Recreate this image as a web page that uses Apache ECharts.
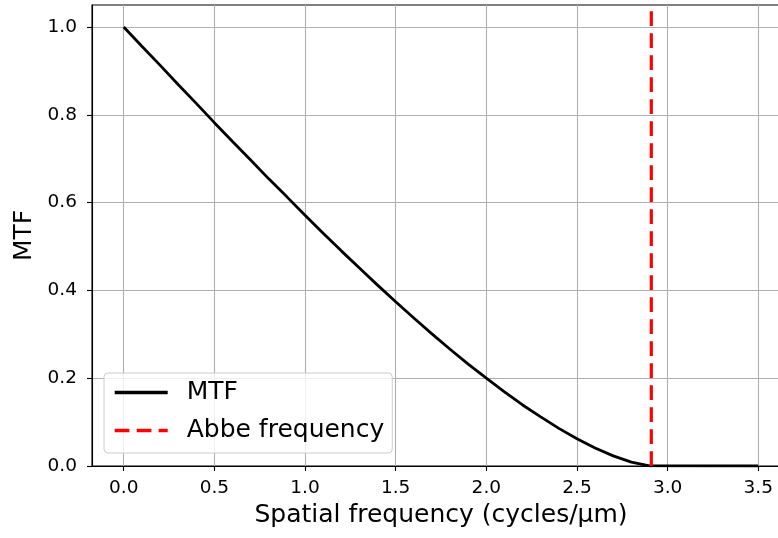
<!DOCTYPE html>
<html>
<head>
<meta charset="utf-8">
<script src="https://cdn.jsdelivr.net/npm/echarts@6/dist/echarts.min.js"></script>
<style>
  html, body { margin: 0; padding: 0; background: #fff; }
  #chart { width: 778px; height: 538px; }
</style>
</head>
<body>
<div id="chart"></div>
<script>
  // 读图得到的数据
  const freq = [0, 0.1, 0.2, 0.3, 0.4, 0.5, 0.6, 0.7, 0.8, 0.9, 1.0, 1.1, 1.2, 1.3, 1.4, 1.5,
    1.6, 1.7, 1.8, 1.9, 2.0, 2.1, 2.2, 2.3, 2.4, 2.5, 2.6, 2.7, 2.8, 2.9, 2.91, 3.5]
  const mtf = [1.0, 0.956, 0.913, 0.869, 0.826, 0.782, 0.739, 0.697, 0.654, 0.613, 0.571,
    0.530, 0.490, 0.451, 0.412, 0.374, 0.337, 0.301, 0.266, 0.232, 0.200, 0.169, 0.139,
    0.112, 0.0857, 0.0621, 0.0411, 0.0230, 0.0088, 0.0002, 0, 0]
  const abbeFreq = 2.91
  const xTicks = [0, 0.5, 1.0, 1.5, 2.0, 2.5, 3.0, 3.5]
  const yTicks = [0, 0.2, 0.4, 0.6, 0.8, 1.0]

  const font = 'DejaVu Sans'
  const myChart = echarts.init(document.getElementById('chart'))

  let option = {
    animation: false,
    grid: {
      left: 92,
      right: -12,
      top: 5,
      bottom: 72,
      outerBoundsMode: 'none',
      show: true,
      borderColor: '#000',
      borderWidth: 1.1,
      backgroundColor: 'transparent'
    },
    legend: {
      orient: 'vertical',
      left: 104,
      top: 373,
      data: ['MTF', 'Abbe frequency'],
      itemWidth: 53,
      itemHeight: 14,
      itemGap: 13,
      padding: [7, 8, 10, 9],
      backgroundColor: 'rgba(255,255,255,0.8)',
      borderColor: '#cccccc',
      borderWidth: 1,
      borderRadius: 4,
      itemStyle: { opacity: 0 },
      lineStyle: { width: 3.4 },
      textStyle: {
        fontFamily: font,
        fontSize: 25,
        color: '#000',
        padding: [0, 0, 0, 14]
      }
    },
    xAxis: {
      type: 'value',
      min: -0.175,
      max: 3.675,
      splitNumber: 8,
      name: 'Spatial frequency (cycles/μm)',
      nameLocation: 'middle',
      nameGap: 33,
      nameTextStyle: { fontFamily: font, fontSize: 25, color: '#000' },
      axisLine: { onZero: false, lineStyle: { color: '#000', width: 1.1 } },
      axisTick: { customValues: xTicks, length: 5, lineStyle: { color: '#000', width: 1.1 } },
      axisLabel: {
        customValues: xTicks,
        margin: 13,
        fontFamily: font,
        fontSize: 18.5,
        color: '#000',
        formatter: (v) => v.toFixed(1)
      },
      splitLine: { show: true, lineStyle: { color: '#b0b0b0', width: 1.1 } }
    },
    yAxis: {
      type: 'value',
      min: 0,
      max: 1.05,
      interval: 0.2,
      name: 'MTF',
      nameLocation: 'middle',
      nameGap: 52,
      nameTextStyle: { fontFamily: font, fontSize: 25, color: '#000' },
      axisLine: { show: true, onZero: false, lineStyle: { color: '#000', width: 1.1 } },
      axisTick: { show: true, customValues: yTicks, length: 5, lineStyle: { color: '#000', width: 1.1 } },
      axisLabel: {
        customValues: yTicks,
        margin: 15,
        fontFamily: font,
        fontSize: 18.5,
        color: '#000',
        formatter: (v) => v.toFixed(1)
      },
      splitLine: { show: true, lineStyle: { color: '#b0b0b0', width: 1.1 } }
    },
    series: [
      {
        name: 'MTF',
        type: 'line',
        symbol: 'none',
        data: freq.map((f, i) => [f, mtf[i]]),
        lineStyle: { color: '#000', width: 2.8 },
        itemStyle: { color: '#000' },
        z: 3
      },
      {
        name: 'Abbe frequency',
        type: 'line',
        symbol: 'none',
        data: [[abbeFreq, 0], [abbeFreq, 1.05]],
        lineStyle: { color: '#ff0000', width: 3.2, type: [14.7, 7.3] },
        itemStyle: { color: '#ff0000' },
        z: 4
      }
    ]
  }

  myChart.setOption(option)
</script>
</body>
</html>
